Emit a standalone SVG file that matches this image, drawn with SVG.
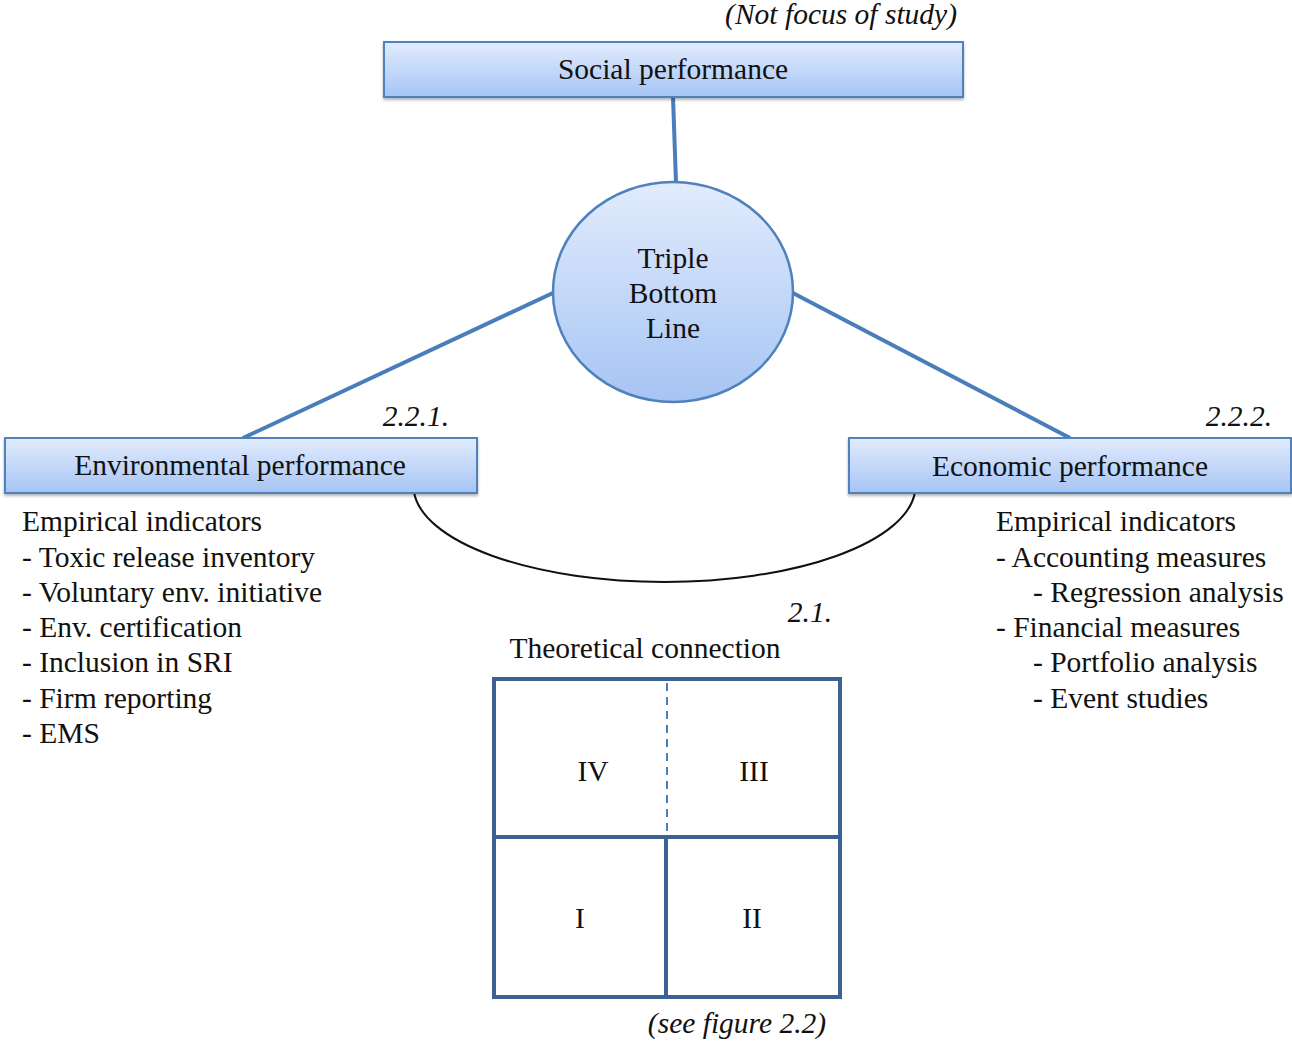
<svg xmlns="http://www.w3.org/2000/svg" width="1292" height="1043" viewBox="0 0 1292 1043">
<style>
text{font-family:"Liberation Serif","Times New Roman",serif;font-size:29.5px;fill:#111}
.it{font-style:italic}
.box{fill:url(#g);stroke:#4f81bd;stroke-width:2}
.spoke{stroke:#4a7ebb;stroke-width:4;fill:none}
.grid{stroke:#3c6294;stroke-width:4;fill:none}
</style>
<defs>
<linearGradient id="g" x1="0" y1="0" x2="0" y2="1">
<stop offset="0" stop-color="#e2ecfd"/>
<stop offset="1" stop-color="#a6c4f4"/>
</linearGradient>
<filter id="sh" x="-5%" y="-20%" width="110%" height="150%">
<feDropShadow dx="0" dy="2" stdDeviation="1.5" flood-color="#000" flood-opacity="0.3"/>
</filter>
</defs>
<rect width="1292" height="1043" fill="#fff"/>
<g id="connectors">
<line class="spoke" x1="673" y1="97" x2="676" y2="183"/>
<line class="spoke" x1="555" y1="292" x2="243" y2="438"/>
<line class="spoke" x1="791" y1="292" x2="1070" y2="438"/>
<path d="M414,492 A251,96 0 0 0 915,492" fill="none" stroke="#111" stroke-width="2"/>
</g>
<g id="social">
<rect class="box" x="384" y="42" width="579" height="55" filter="url(#sh)"/>
<text x="673" y="79" text-anchor="middle">Social performance</text>
<text class="it" x="957" y="24" text-anchor="end">(Not focus of study)</text>
</g>
<g id="tbl">
<ellipse cx="673" cy="292" rx="120" ry="110" fill="url(#g)" stroke="#4f81bd" stroke-width="2.5"/>
<text x="673" y="268" text-anchor="middle">Triple</text>
<text x="673" y="303" text-anchor="middle">Bottom</text>
<text x="673" y="338" text-anchor="middle">Line</text>
</g>
<g id="env">
<rect class="box" x="5" y="438" width="472" height="55" filter="url(#sh)"/>
<text x="240" y="475" text-anchor="middle">Environmental performance</text>
<text class="it" x="449" y="426" text-anchor="end">2.2.1.</text>
<text x="22" y="531">Empirical indicators</text>
<text x="22" y="567">- Toxic release inventory</text>
<text x="22" y="602">- Voluntary env. initiative</text>
<text x="22" y="637">- Env. certification</text>
<text x="22" y="672">- Inclusion in SRI</text>
<text x="22" y="708">- Firm reporting</text>
<text x="22" y="743">- EMS</text>
</g>
<g id="econ">
<rect class="box" x="849" y="438" width="442" height="55" filter="url(#sh)"/>
<text x="1070" y="476" text-anchor="middle">Economic performance</text>
<text class="it" x="1272" y="426" text-anchor="end">2.2.2.</text>
<text x="996" y="531">Empirical indicators</text>
<text x="996" y="567">- Accounting measures</text>
<text x="1033" y="602">- Regression analysis</text>
<text x="996" y="637">- Financial measures</text>
<text x="1033" y="672">- Portfolio analysis</text>
<text x="1033" y="708">- Event studies</text>
</g>
<g id="theory">
<text class="it" x="832" y="622" text-anchor="end">2.1.</text>
<text x="645" y="658" text-anchor="middle">Theoretical connection</text>
<rect class="grid" x="494" y="679" width="346" height="318"/>
<line class="grid" x1="494" y1="837" x2="840" y2="837"/>
<line class="grid" x1="666" y1="837" x2="666" y2="997"/>
<line x1="667" y1="683" x2="667" y2="835" stroke="#4a7ebb" stroke-width="2" stroke-dasharray="8,6"/>
<text x="593" y="781" text-anchor="middle">IV</text>
<text x="754" y="781" text-anchor="middle">III</text>
<text x="580" y="928" text-anchor="middle">I</text>
<text x="752" y="928" text-anchor="middle">II</text>
<text class="it" x="737" y="1033" text-anchor="middle">(see figure 2.2)</text>
</g>
</svg>
